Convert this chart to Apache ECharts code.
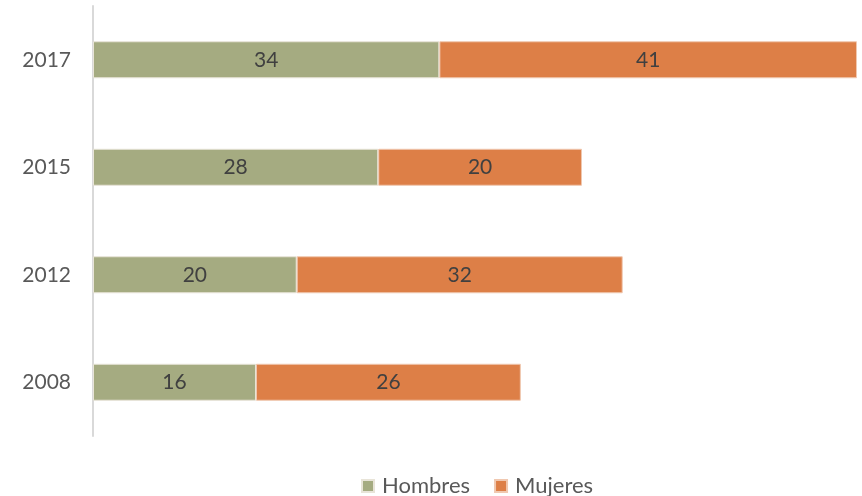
<!DOCTYPE html>
<html><head><meta charset="utf-8">
<script src="https://cdn.jsdelivr.net/npm/echarts@6/dist/echarts.min.js"></script>
<style>html,body{margin:0;padding:0;background:#fff}#c{width:862px;height:496px}</style>
</head><body><div id="c"></div>
<script>
const categories = ['2008', '2012', '2015', '2017'];
const hombres = [16, 20, 28, 34];
const mujeres = [26, 32, 20, 41];
const seriesNames = ['Hombres', 'Mujeres'];

const chart = echarts.init(document.getElementById('c'));
const labelStyle = { show: true, position: 'inside', color: '#404040', fontSize: 21, fontFamily: 'Lato' };
chart.setOption({
  animation: false,
  grid: { left: 93, right: 5, top: 6, bottom: 60, containLabel: false },
  xAxis: { type: 'value', min: 0, max: 75, show: false },
  yAxis: {
    type: 'category', data: categories,
    axisLine: { show: true, lineStyle: { color: '#D9D9D9', width: 2 } },
    axisTick: { show: false },
    axisLabel: { color: '#595959', fontSize: 21, fontFamily: 'Lato', margin: 22 }
  },
  legend: {
    top: 470, left: 356, itemWidth: 12, itemHeight: 12, itemGap: 24,
    icon: 'rect',
    textStyle: { color: '#595959', fontSize: 22, fontFamily: 'Lato', padding: [0,0,0,3] },
    data: seriesNames
  },
  series: [
    { name: seriesNames[0], type: 'bar', stack: 't', data: hombres, barWidth: 37,
      itemStyle: { color: '#A5AB81', borderColor: '#E8E4D8', borderWidth: 1 }, label: labelStyle },
    { name: seriesNames[1], type: 'bar', stack: 't', data: mujeres, barWidth: 37,
      itemStyle: { color: '#DD7F47', borderColor: '#F0C8B0', borderWidth: 1 }, label: labelStyle }
  ]
});
</script></body></html>
